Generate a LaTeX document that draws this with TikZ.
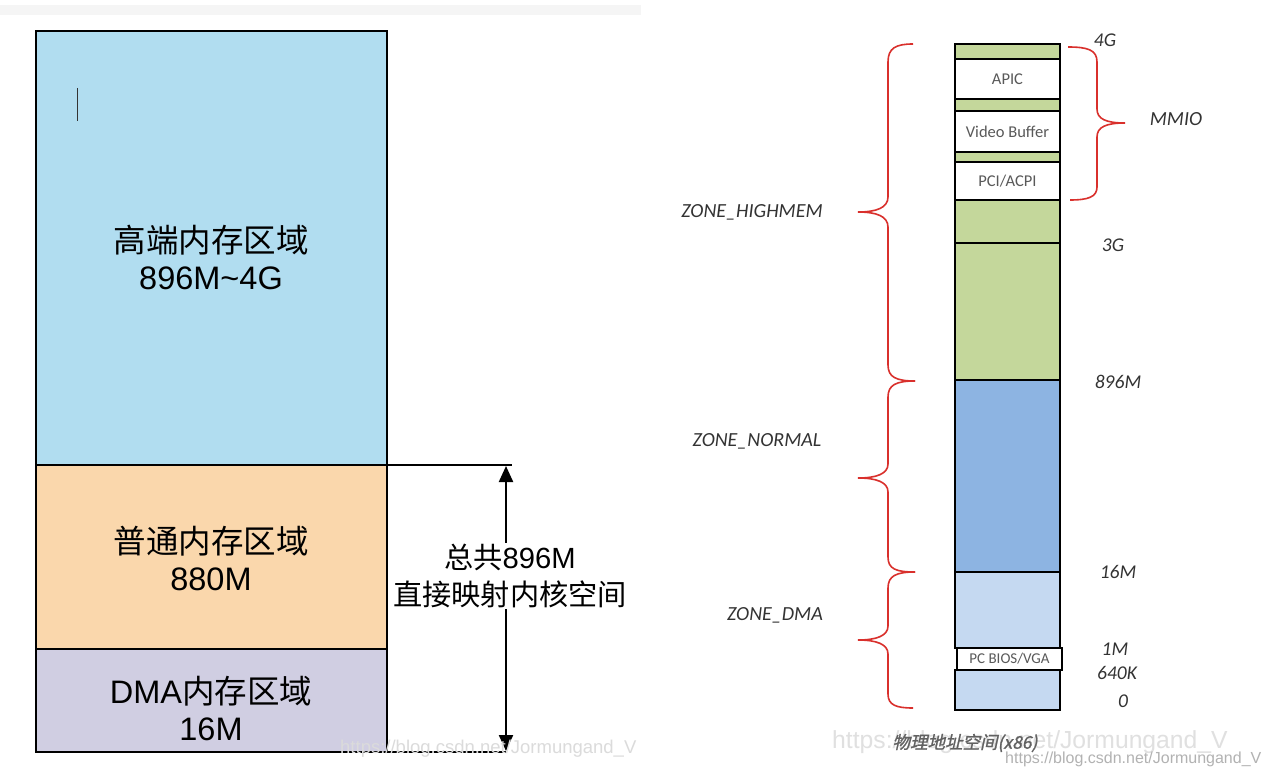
\documentclass[tikz,border=0pt]{standalone}
\usepackage{fontspec}
\setmainfont{Liberation Sans}
\newfontfamily\cjk{Noto Sans CJK SC}
\newfontfamily\cjkit{Noto Sans CJK SC}[FakeSlant=0.22,FakeBold=1.2]
\newfontfamily\calfont{Carlito}
\usetikzlibrary{arrows.meta}
\definecolor{hiblue}{HTML}{B1DDF0}
\definecolor{normorange}{HTML}{FAD7AC}
\definecolor{dmapurple}{HTML}{D0CEE2}
\definecolor{zgreen}{HTML}{C4D79B}
\definecolor{zblue}{HTML}{8DB4E2}
\definecolor{zlblue}{HTML}{C5D9F1}
\definecolor{bracered}{HTML}{D9302C}
\definecolor{lbl}{HTML}{333333}
\tikzset{
  blk/.style={draw=black, line width=2.5pt, inner sep=0pt, outer sep=0pt, anchor=north west},
  seg/.style={draw=black, line width=2pt, inner sep=0pt, minimum width=105pt,
     font=\calfont\fontsize{16.5}{18}\selectfont, text=black!65},
  bigtxt/.style={align=center, font=\fontsize{32.5}{37}\selectfont, inner sep=0pt},
  arrtxt/.style={align=center, font=\fontsize{29.2}{37}\selectfont, fill=white, inner sep=1pt},
  addr/.style={font=\calfont\itshape\fontsize{19.5}{21}\selectfont, text=lbl, inner sep=0pt},
  zone/.style={font=\calfont\itshape\fontsize{20}{22}\selectfont, text=lbl, inner sep=0pt},
  brace/.style={draw=bracered, line width=1.6pt},
  wm/.style={inner sep=0pt, anchor=base west}
}
\begin{document}
\begin{tikzpicture}[x=1pt,y=-1pt]
\useasboundingbox (0,0) rectangle (1267,776);
\fill[white] (0,0) rectangle (1267,776);
% top gray strip
\fill[gray!8] (0,5) rectangle (641,15);

% ---------- left diagram ----------
\node[blk, fill=hiblue, minimum width=351pt, minimum height=434pt] (high) at (36,31) {};
\node[blk, fill=normorange, minimum width=351pt, minimum height=184pt] (norm) at (36,465) {};
\node[blk, fill=dmapurple, minimum width=351pt, minimum height=103pt] (dma) at (36,649) {};
\draw[line width=1pt, black!80] (77,88) -- (77,121);

\node[bigtxt] (hightxt) at (211,257) {{\cjk 高端内存区域}\\896M\textasciitilde 4G};
\node[bigtxt] (normtxt) at (211,558) {{\cjk 普通内存区域}\\880M};
\node[bigtxt] (dmatxt) at (211,709) {DMA{\cjk 内存区域}\\16M};

\coordinate (topend) at (512,465);
\coordinate (botend) at (506,752);
\coordinate (arrtop) at (506,466);
\coordinate (arrbot) at (506,751);
\draw[line width=2.2pt] (high.south east) -- (high.south east -| topend);
\draw[line width=2.2pt] (dma.south east) -- (dma.south east -| botend);
\draw[line width=2.2pt, {Triangle[length=16pt,width=14pt]}-{Triangle[length=16pt,width=14pt]}] (arrtop) -- (arrbot);
\node[arrtxt] (arrlabel) at (510,576) {{\cjk 总共}896M\\{\cjk 直接映射内核空间}};

% ---------- right diagram ----------
\node[seg, fill=zgreen, minimum height=15pt] (g1) at (1007.5,51.5) {};
\node[seg, fill=white, minimum height=40pt] (apic) at (1007.5,79) {APIC};
\node[seg, fill=zgreen, minimum height=12pt] (g2) at (1007.5,105) {};
\node[seg, fill=white, minimum height=41pt] (vb) at (1007.5,131.5) {Video Buffer};
\node[seg, fill=zgreen, minimum height=10pt] (g3) at (1007.5,157) {};
\node[seg, fill=white, minimum height=38pt] (pci) at (1007.5,181) {PCI/ACPI};
\node[seg, fill=zgreen, minimum height=43pt] (g4) at (1007.5,221.5) {};
\node[seg, fill=zgreen, minimum height=137pt] (g5) at (1007.5,311.5) {};
\node[seg, fill=zblue, minimum height=192pt] (nblue) at (1007.5,476) {};
\node[seg, fill=zlblue, minimum height=76pt] (lb1) at (1007.5,610) {};
\node[seg, fill=zlblue, minimum height=40pt] (lb2) at (1007.5,690) {};
\node[seg, fill=white, minimum height=22pt, font=\calfont\fontsize{15}{16}\selectfont] (bios) at (1009.5,659) {PC BIOS/VGA};

% address labels
\node[addr] (a4g) at (1105,40) {4G};
\node[addr] (a3g) at (1113,245) {3G};
\node[addr] (a896) at (1118,382) {896M};
\node[addr] (a16) at (1118,572) {16M};
\node[addr] (a1m) at (1115,649) {1M};
\node[addr] (a640) at (1117,673) {640K};
\node[addr] (a0) at (1123,701) {0};
\node[addr, font=\calfont\itshape\fontsize{20}{22}\selectfont] (mmio) at (1176,119) {MMIO};

% zone labels
\node[zone] (zhigh) at (752,212) {ZONE\_HIGHMEM};
\node[zone] (znorm) at (757,441) {ZONE\_NORMAL};
\node[zone] (zdma) at (775,615) {ZONE\_DMA};

% braces
\draw[brace] (913,44) .. controls (896,44) and (888,48) .. (888,62) -- (888,197)
   .. controls (888,208) and (876,212) .. (858,212)
   .. controls (876,212) and (888,216) .. (888,227) -- (888,365)
   .. controls (888,377) and (896,381) .. (915,381);
\draw[brace] (915,381) .. controls (896,381) and (888,385) .. (888,397) -- (888,464)
   .. controls (888,474) and (876,478) .. (858,478)
   .. controls (876,478) and (888,482) .. (888,492) -- (888,557)
   .. controls (888,569) and (896,572) .. (915,572);
\draw[brace] (915,572) .. controls (896,572) and (888,576) .. (888,588) -- (888,626)
   .. controls (888,636) and (876,640) .. (858,640)
   .. controls (876,640) and (888,644) .. (888,654) -- (888,694)
   .. controls (888,705) and (896,708) .. (913,708);
\draw[brace] (1068,47) .. controls (1088,47) and (1097,50) .. (1097,62) -- (1097,109)
   .. controls (1097,119) and (1106,123) .. (1125,123)
   .. controls (1106,123) and (1097,127) .. (1097,137) -- (1097,187)
   .. controls (1097,197) and (1088,200) .. (1070,200);

% watermarks
\node[wm, font=\fontsize{24.7}{28}\selectfont, text=black!12] (wm1) at (832,748) {https://blog.csdn.net/Jormungand\_V};
\node[wm, font=\fontsize{18.5}{22}\selectfont, text=black!14] (wm3) at (340,753) {https://blog.csdn.net/Jormungand\_V};

% caption
\node[font=\cjkit\fontsize{17.5}{20}\selectfont, text=black!62, inner sep=0pt] (caption) at (965,743) {物理地址空间(x86)};

\node[wm, font=\fontsize{16}{18}\selectfont, text=black!30] (wm2) at (1005,763) {https://blog.csdn.net/Jormungand\_V};
\end{tikzpicture}
\end{document}
